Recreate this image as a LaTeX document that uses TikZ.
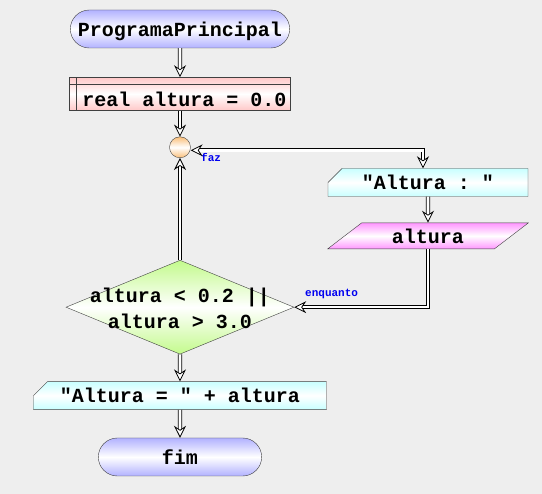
\documentclass[tikz,border=0pt]{standalone}
\usepackage{fontspec}
\setmonofont{Liberation Mono}
\usetikzlibrary{arrows.meta,positioning,shapes.geometric,shapes.misc}
\definecolor{fundo}{RGB}{238,238,238}
\definecolor{borda}{RGB}{64,64,64}
\definecolor{lilas}{RGB}{178,178,255}
\definecolor{rosa}{RGB}{255,200,200}
\definecolor{ciano}{RGB}{200,255,255}
\definecolor{roxo}{RGB}{255,150,255}
\definecolor{verde}{RGB}{195,250,140}
\definecolor{laranja}{RGB}{250,190,120}
\definecolor{azul}{RGB}{0,0,240}
\begin{document}
\begin{tikzpicture}[x=1pt,y=-1pt,>={Stealth[open,fill=white,length=12pt,width=12pt,inset=4pt,line width=0.8pt]},
  texto/.style={font=\ttfamily\bfseries\fontsize{20}{26}\selectfont,text height=20pt,text depth=4pt,inner ysep=0pt},
  grad/.style={top color=#1,bottom color=#1,middle color=white},
  term/.style={texto,rounded rectangle,draw=borda,grad=lilas,minimum height=38pt},
  decl/.style={texto,draw=borda,grad=rosa,minimum width=221pt,minimum height=33pt,text height=29pt,
    path picture={\draw[borda] ([yshift=-7pt]path picture bounding box.north west) -- ([yshift=-7pt]path picture bounding box.north east);
      \draw[borda] ([xshift=7pt]path picture bounding box.north west) -- ([xshift=7pt]path picture bounding box.south west);}},
  saida/.style={texto,chamfered rectangle,chamfered rectangle corners=north west,chamfered rectangle xsep=7pt,chamfered rectangle ysep=7pt,draw=borda,grad=ciano,text height=14pt,text depth=-1pt},
  entrada/.style={texto,trapezium,trapezium left angle=50,trapezium right angle=130,trapezium stretches=true,draw=borda,grad=roxo,minimum height=26pt},
  decisao/.style={diamond,draw=borda,grad=verde,minimum width=228pt,minimum height=94pt,inner sep=0pt},
  conector/.style={circle,draw=borda,grad=laranja,minimum size=21pt,inner sep=0pt},
  rotulo/.style={font=\ttfamily\bfseries\fontsize{11}{13}\selectfont,text=azul,inner sep=0pt},
  seta/.style={draw=black,line width=0.8pt,double=white,double distance=2.6pt,->}]
\path[use as bounding box,fill=fundo] (0,0) rectangle (542,494);
\node[term,minimum width=226pt] (inicio) at (180,29) {ProgramaPrincipal};
\node[decl,below=29pt of inicio] (var) {\hspace*{9pt}real altura = 0.0};
\node[conector,below=26pt of var] (laco) {};
\node[saida,minimum width=200pt] (escreve) at (428,182.5) {"Altura : "};
\node[entrada,minimum width=201pt,below=26pt of escreve] (le) {altura};
\node[decisao,below=102pt of laco] (cond) {};
\node[texto,align=center,text height=46pt] (condtxt) at (cond) {altura < 0.2 ||\\altura > 3.0};
\node[saida,minimum width=293pt,below=27pt of cond] (mostra) {"Altura = " + altura};
\node[term,minimum width=170pt,below=28pt of mostra] (fim) {fim};
\node[rotulo,anchor=base west] (faz) at (201,162) {faz};
\node[rotulo,anchor=base west] (enquanto) at (305,297) {enquanto};
\draw[seta] (inicio) -- (var);
\draw[seta] (var) -- (laco);
\draw[seta,<->] ([yshift=-3pt]laco.east) -| ([xshift=-5pt]escreve.north);
\draw[seta] (escreve) -- (le);
\draw[seta] (le.south) |- (cond.east);
\draw[seta] (cond.north) -- (laco.south);
\draw[seta] (cond) -- (mostra);
\draw[seta] (mostra) -- (fim);
\end{tikzpicture}
\end{document}
